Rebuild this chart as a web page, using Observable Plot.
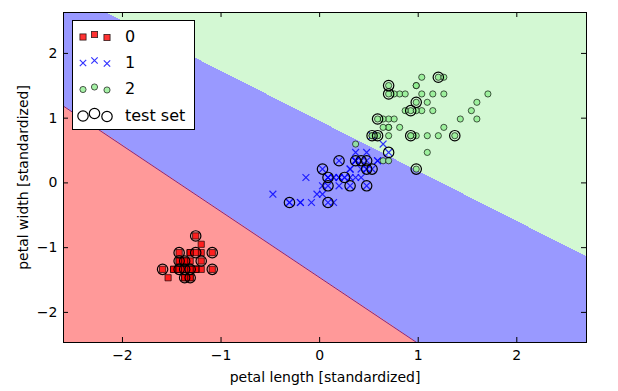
<!DOCTYPE html>
<html><head><meta charset="utf-8">
<script src="https://cdn.jsdelivr.net/npm/d3@7"></script>
<script src="https://cdn.jsdelivr.net/npm/@observablehq/plot@0.6"></script>
<style>
body{margin:0;background:#fff;font-family:"DejaVu Sans",sans-serif;}
#wrap{position:relative;width:618px;height:391px;}
#legend{position:absolute;left:72px;top:20px;width:121px;height:108px;border:1px solid #000;background:#fff;}
#legend svg{display:block;}
</style></head><body><div id="wrap"></div>
<script>
// ---- data (standardized petal length / width) ----
const classLabels = ["0", "1", "2", "test set"];
const xTicks = [-2, -1, 0, 1, 2];
const yTicks = [-2, -1, 0, 1, 2];
const xDomain = [-2.598, 2.707];
const yDomain = [-2.465, 2.632];

const class0X = [-1.369,-1.369,-1.425,-1.313,-1.369,-1.201,-1.369,-1.313,-1.369,-1.313,
  -1.313,-1.257,-1.369,-1.537,-1.481,-1.313,-1.425,-1.369,-1.201,-1.313,
  -1.201,-1.313,-1.593,-1.201,-1.089,-1.257,-1.257,-1.313,-1.369,-1.257,
  -1.257,-1.313,-1.313,-1.369,-1.313,-1.481,-1.425,-1.369,-1.425,-1.313,
  -1.425,-1.425,-1.425,-1.257,-1.089,-1.369,-1.257,-1.369,-1.313,-1.369];
const class0Y = [-1.335,-1.335,-1.335,-1.335,-1.335,-1.077,-1.206,-1.335,-1.335,-1.465,
  -1.335,-1.335,-1.465,-1.465,-1.335,-1.077,-1.077,-1.206,-1.206,-1.206,
  -1.335,-1.077,-1.335,-0.948,-1.335,-1.335,-1.077,-1.335,-1.335,-1.335,
  -1.335,-1.077,-1.465,-1.335,-1.335,-1.335,-1.335,-1.465,-1.335,-1.335,
  -1.206,-1.206,-1.335,-0.819,-1.077,-1.206,-1.335,-1.335,-1.335,-1.335];

const class1X = [0.477,0.365,0.588,0.085,0.421,0.365,0.477,-0.306,0.421,0.029,
  -0.195,0.197,0.085,0.477,-0.139,0.309,0.365,0.141,0.365,0.029,
  0.532,0.085,0.588,0.477,0.253,0.309,0.532,0.644,0.365,-0.195,
  -0.027,-0.083,0.029,0.700,0.365,0.365,0.477,0.309,0.141,0.085,
  0.309,0.421,0.085,-0.306,0.197,0.197,0.197,0.253,-0.474,0.141];
const class1Y = [0.213,0.342,0.342,0.084,0.342,0.084,0.471,-0.303,0.084,0.213,
  -0.303,0.342,-0.303,0.213,0.084,0.213,0.342,-0.303,0.342,-0.174,
  0.729,0.084,0.342,-0.045,0.084,0.213,0.213,0.600,0.342,-0.303,
  -0.174,-0.303,-0.045,0.471,0.342,0.471,0.342,0.084,0.084,0.084,
  -0.045,0.213,-0.045,-0.303,0.084,-0.045,0.084,0.084,-0.174,0.084];

const class2X = [1.204,0.700,1.148,0.980,1.092,1.539,0.365,1.371,1.092,1.260,
  0.700,0.812,0.924,0.644,0.700,0.812,0.924,1.595,1.707,0.644,
  1.036,0.588,1.595,0.588,1.036,1.204,0.532,0.588,0.980,1.092,
  1.260,1.427,0.980,0.700,0.980,1.260,0.980,0.924,0.532,0.868,
  0.980,0.700,0.700,1.148,1.036,0.756,0.644,0.756,0.868,0.700];
const class2Y = [1.632,0.858,1.116,0.729,1.245,1.116,0.600,0.729,0.729,1.632,
  0.987,0.858,1.116,0.987,1.503,1.374,0.729,1.245,1.374,0.342,
  1.374,0.987,0.987,0.729,1.116,0.729,0.729,0.729,1.116,0.471,
  0.858,0.987,1.245,0.342,0.213,1.374,1.503,0.729,0.729,1.116,
  1.503,1.374,0.858,1.374,1.632,1.374,0.858,0.987,1.374,0.729];

const testX = [-1.257,-1.425,-1.257,-1.089,-1.425,-1.369,-1.201,-1.593,-1.089,-1.313,-1.369,-1.313,-1.425,-1.369,
  -0.306,0.085,0.029,0.085,0.085,0.197,0.253,0.309,0.477,0.365,0.421,0.477,0.532,0.477,0.700,
  1.204,0.700,0.700,0.980,0.924,0.588,0.532,0.588,0.924,1.371,0.980];
const testY = [-0.819,-1.077,-1.077,-1.077,-1.206,-1.206,-1.206,-1.335,-1.335,-1.465,-1.335,-1.335,-1.335,-1.465,
  -0.303,-0.303,0.213,0.084,-0.045,0.342,0.084,-0.045,-0.045,0.342,0.342,0.342,0.213,0.213,0.471,
  1.632,1.503,1.374,1.245,1.116,0.987,0.729,0.729,0.729,0.729,0.213];

// decision boundaries of the fitted classifier (y = intercept + slope * x)
const boundaryRedBlue = {intercept: -1.462, slope: -1.019};
const boundaryBlueGreen = {intercept: 0.945, slope: -0.773};
const regionColors = ["#ff9999", "#9999ff", "#d3f8d3"];

// ---- build tables ----
const toPts = (X, Y) => X.map((x, i) => ({x, y: Y[i]}));
const pts0 = toPts(class0X, class0Y);
const pts1 = toPts(class1X, class1Y);
const pts2 = toPts(class2X, class2Y);
const ptsTest = toPts(testX, testY);
const regionClass = (x, y) =>
  y < boundaryRedBlue.intercept + boundaryRedBlue.slope * x ? 0 :
  y > boundaryBlueGreen.intercept + boundaryBlueGreen.slope * x ? 2 : 1;
const rbLine = xDomain.map(x => ({x, y: boundaryRedBlue.intercept + boundaryRedBlue.slope * x}));
const intFmt = d3.format("d");

const chart = Plot.plot({
  width: 618, height: 391,
  marginLeft: 63, marginRight: 32, marginTop: 12, marginBottom: 49,
  style: {fontFamily: '"DejaVu Sans", sans-serif', fontSize: "14px", background: "white", color: "black"},
  x: {domain: xDomain, ticks: xTicks, tickFormat: intFmt, tickSize: 0, tickPadding: 8, label: null},
  y: {domain: yDomain, ticks: yTicks, tickFormat: intFmt, tickSize: 0, tickPadding: 6, label: null},
  color: {type: "ordinal", domain: [0, 1, 2], range: regionColors},
  marks: [
    Plot.raster({fill: regionClass, x1: xDomain[0], x2: xDomain[1], y1: yDomain[0], y2: yDomain[1], pixelSize: 1, imageRendering: "pixelated"}),
    Plot.line(rbLine, {x: "x", y: "y", stroke: "#7a2a8a", strokeWidth: 1, clip: true}),
    Plot.dot(pts0, {x: "x", y: "y", symbol: "square", r: 3.5, fill: "red", fillOpacity: 0.8, stroke: "black", strokeOpacity: 0.8, strokeWidth: 0.8}),
    Plot.dot(pts1, {x: "x", y: "y", symbol: "times", r: 3.2, stroke: "blue", strokeOpacity: 0.8, strokeWidth: 1.2}),
    Plot.dot(pts2, {x: "x", y: "y", symbol: "circle", r: 3.1, fill: "lightgreen", fillOpacity: 0.8, stroke: "black", strokeOpacity: 0.8, strokeWidth: 0.8}),
    Plot.dot(ptsTest, {x: "x", y: "y", symbol: "circle", r: 5.2, fill: "none", stroke: "black", strokeWidth: 1.2}),
    Plot.frame({stroke: "black", strokeWidth: 1}),
    Plot.tickX(xTicks, {x: d => d, insetTop: 325, stroke: "black"}),
    Plot.tickX(xTicks, {x: d => d, insetBottom: 325, stroke: "black"}),
    Plot.tickY(yTicks, {y: d => d, insetRight: 518, stroke: "black"}),
    Plot.tickY(yTicks, {y: d => d, insetLeft: 518, stroke: "black"}),
    Plot.text(["petal length [standardized]"], {text: d => d, frameAnchor: "bottom", dy: 35, lineAnchor: "middle", textAnchor: "middle", fontSize: 14}),
    Plot.text(["petal width [standardized]"], {text: d => d, frameAnchor: "left", dx: -40, rotate: -90, lineAnchor: "middle", textAnchor: "middle", fontSize: 14})
  ]
});
const wrap = document.getElementById("wrap");
wrap.appendChild(chart);

// ---- legend (inside the axes, upper left) ----
const ns = "http://www.w3.org/2000/svg";
const leg = document.createElement("div");
leg.id = "legend";
const lsvg = document.createElementNS(ns, "svg");
lsvg.setAttribute("width", 121); lsvg.setAttribute("height", 108);
const rowsY = [15, 41, 67.5, 94];
const mxs = [10, 21.5, 34];
const moff = [1, -1.5, 1.5];
function el(tag, attrs) { const e = document.createElementNS(ns, tag); for (const k in attrs) e.setAttribute(k, attrs[k]); lsvg.appendChild(e); return e; }
classLabels.forEach((lab, i) => {
  const cy = rowsY[i];
  mxs.forEach((mx, j) => {
    const y = cy + moff[j];
    if (i === 0) el("rect", {x: mx - 3.1, y: y - 3.1, width: 6.2, height: 6.2, fill: "red", "fill-opacity": 0.8, stroke: "black", "stroke-opacity": 0.8, "stroke-width": 0.8});
    else if (i === 1) el("path", {d: `M${mx-3.2},${y-3.2}L${mx+3.2},${y+3.2}M${mx-3.2},${y+3.2}L${mx+3.2},${y-3.2}`, stroke: "blue", "stroke-opacity": 0.8, "stroke-width": 1.2, fill: "none"});
    else if (i === 2) el("circle", {cx: mx, cy: y, r: 3.1, fill: "lightgreen", "fill-opacity": 0.8, stroke: "black", "stroke-opacity": 0.8, "stroke-width": 0.8});
    else el("circle", {cx: mx, cy: y, r: 5.2, fill: "none", stroke: "black", "stroke-width": 1.2});
  });
  const t = el("text", {x: 52, y: cy, "dominant-baseline": "central", "font-size": "16px", "font-family": '"DejaVu Sans", sans-serif', fill: "black"});
  t.textContent = lab;
});
leg.appendChild(lsvg);
wrap.appendChild(leg);
</script>
</body></html>
